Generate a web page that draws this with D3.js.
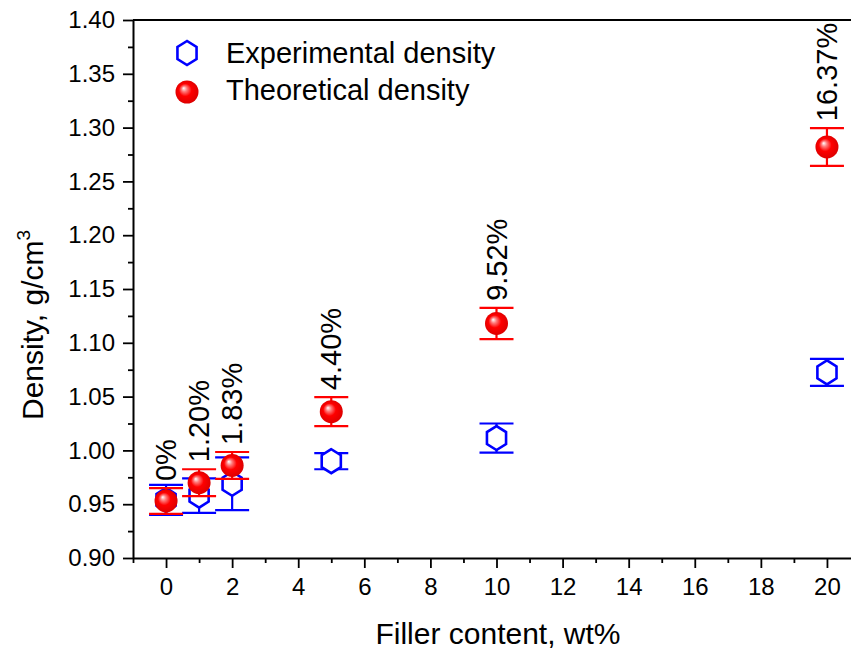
<!DOCTYPE html>
<html>
<head>
<meta charset="utf-8">
<script src="https://cdn.jsdelivr.net/npm/d3@7"></script>
<style>
  html, body { margin: 0; padding: 0; background: #fff; }
  svg { display: block; }
  text { font-family: "Liberation Sans", Arial, Helvetica, sans-serif; fill: #000; }
</style>
</head>
<body>
<svg id="chart" width="851" height="652"></svg>
<script>
// ---- data ----
const fillerContent = [0, 1, 2, 5, 10, 20];
const experimentalDensity = [0.954, 0.958, 0.969, 0.990, 1.0115, 1.0725];
const experimentalError   = [0.014, 0.016, 0.0245, 0.0075, 0.0135, 0.0125];
const theoreticalDensity  = [0.953, 0.970, 0.986, 1.036, 1.118, 1.282];
const theoreticalError    = [0.012, 0.0125, 0.0125, 0.0135, 0.0145, 0.0175];
const porosityLabels = ["0%", "1.20%", "1.83%", "4.40%", "9.52%", "16.37%"];
const xTickValues = [0, 2, 4, 6, 8, 10, 12, 14, 16, 18, 20];
const yTickValues = [0.90, 0.95, 1.00, 1.05, 1.10, 1.15, 1.20, 1.25, 1.30, 1.35, 1.40];
const legendLabels = ["Experimental density", "Theoretical density"];

// ---- layout ----
const svg = d3.select("#chart");
const plot = { left: 133, top: 20, right: 860, bottom: 558 };
const x = d3.scaleLinear().domain([-1, 21]).range([plot.left, plot.right]);
const y = d3.scaleLinear().domain([0.90, 1.40]).range([plot.bottom, plot.top]);

const defs = svg.append("defs");
const grad = defs.append("radialGradient").attr("id", "ball")
  .attr("cx", "50%").attr("cy", "50%").attr("r", "55%")
  .attr("fx", "35%").attr("fy", "33%");
grad.append("stop").attr("offset", "0%").attr("stop-color", "#ffffff");
grad.append("stop").attr("offset", "22%").attr("stop-color", "#ff7a7a");
grad.append("stop").attr("offset", "50%").attr("stop-color", "#ff0000");
grad.append("stop").attr("offset", "90%").attr("stop-color", "#e00000");
grad.append("stop").attr("offset", "100%").attr("stop-color", "#c00000");

// ---- axes ----
const minorY = d3.range(0.925, 1.40, 0.05);
const minorX = d3.range(-1, 22, 2).filter(v => v >= -1 && v <= 21);

const yAxis = svg.append("g").attr("transform", `translate(${plot.left},0)`)
  .call(d3.axisLeft(y).tickValues(yTickValues).tickFormat(d3.format(".2f"))
    .tickSize(10).tickPadding(8).tickSizeOuter(0));
svg.append("g").attr("transform", `translate(${plot.left},0)`)
  .call(d3.axisLeft(y).tickValues(minorY).tickFormat("").tickSize(5).tickSizeOuter(0))
  .select(".domain").remove();

const xAxis = svg.append("g").attr("transform", `translate(0,${plot.bottom})`)
  .call(d3.axisBottom(x).tickValues(xTickValues).tickFormat(d3.format("d"))
    .tickSize(10).tickPadding(10).tickSizeOuter(0));
svg.append("g").attr("transform", `translate(0,${plot.bottom})`)
  .call(d3.axisBottom(x).tickValues(minorX).tickFormat("").tickSize(5).tickSizeOuter(0))
  .select(".domain").remove();

svg.selectAll(".tick line").attr("stroke", "#000").attr("stroke-width", 1.8);
svg.selectAll(".domain").attr("stroke", "#000").attr("stroke-width", 2);
yAxis.selectAll("text").style("font-size", "24px");
xAxis.selectAll("text").style("font-size", "24px");

// top frame
svg.append("line").attr("x1", plot.left).attr("x2", plot.right)
  .attr("y1", plot.top).attr("y2", plot.top)
  .attr("stroke", "#000").attr("stroke-width", 2);

// axis titles
svg.append("text").attr("x", 498).attr("y", 644).attr("text-anchor", "middle")
  .style("font-size", "30px").text("Filler content, wt%");
const yt = svg.append("text").attr("transform", "translate(43,325) rotate(-90)")
  .attr("text-anchor", "middle").style("font-size", "30px");
yt.append("tspan").text("Density, g/cm");
yt.append("tspan").attr("dy", -13).style("font-size", "19px").text("3");

// ---- series ----
const capHalf = 17;
function errorBars(g, vals, errs, color) {
  const d = fillerContent.map((xv, i) => ({ x: xv, v: vals[i], e: errs[i] }));
  const eg = g.selectAll("g.err").data(d).join("g").attr("class", "err")
    .attr("stroke", color).attr("stroke-width", 2.2);
  eg.append("line").attr("x1", p => x(p.x)).attr("x2", p => x(p.x))
    .attr("y1", p => y(p.v - p.e)).attr("y2", p => y(p.v + p.e));
  eg.append("line").attr("x1", p => x(p.x) - capHalf).attr("x2", p => x(p.x) + capHalf)
    .attr("y1", p => y(p.v + p.e)).attr("y2", p => y(p.v + p.e));
  eg.append("line").attr("x1", p => x(p.x) - capHalf).attr("x2", p => x(p.x) + capHalf)
    .attr("y1", p => y(p.v - p.e)).attr("y2", p => y(p.v - p.e));
  return d;
}
function hexPath(r) {
  const pts = d3.range(6).map(k => {
    const a = Math.PI / 2 + k * Math.PI / 3;
    return [r * 0.92 * Math.cos(a), -r * Math.sin(a)];
  });
  return "M" + pts.map(p => p.join(",")).join("L") + "Z";
}

const gExp = svg.append("g");
const expData = errorBars(gExp, experimentalDensity, experimentalError, "#0000ff");
gExp.selectAll("path.hex").data(expData).join("path").attr("class", "hex")
  .attr("d", hexPath(12)).attr("transform", p => `translate(${x(p.x)},${y(p.v)})`)
  .attr("fill", "#fff").attr("stroke", "#0000ff").attr("stroke-width", 2.6);

const gTh = svg.append("g");
const thData = errorBars(gTh, theoreticalDensity, theoreticalError, "#ff0000");
gTh.selectAll("circle.ball").data(thData).join("circle").attr("class", "ball")
  .attr("cx", p => x(p.x)).attr("cy", p => y(p.v)).attr("r", 11.5)
  .attr("fill", "url(#ball)");

// porosity labels
svg.selectAll("text.por").data(thData).join("text").attr("class", "por")
  .attr("transform", (p, i) => `translate(${x(p.x) + 10},${y(p.v + p.e) - 7}) rotate(-90)`)
  .attr("text-anchor", "start").style("font-size", "29px")
  .text((p, i) => porosityLabels[i]);

// ---- legend ----
const lg = svg.append("g");
lg.append("path").attr("d", hexPath(12)).attr("transform", "translate(187,53)")
  .attr("fill", "#fff").attr("stroke", "#0000ff").attr("stroke-width", 2.6);
lg.append("circle").attr("cx", 187).attr("cy", 92).attr("r", 11.5).attr("fill", "url(#ball)");
lg.selectAll("text").data(legendLabels).join("text")
  .attr("x", 226).attr("y", (d, i) => 63 + i * 37)
  .style("font-size", "29px").text(d => d);
</script>
</body>
</html>
